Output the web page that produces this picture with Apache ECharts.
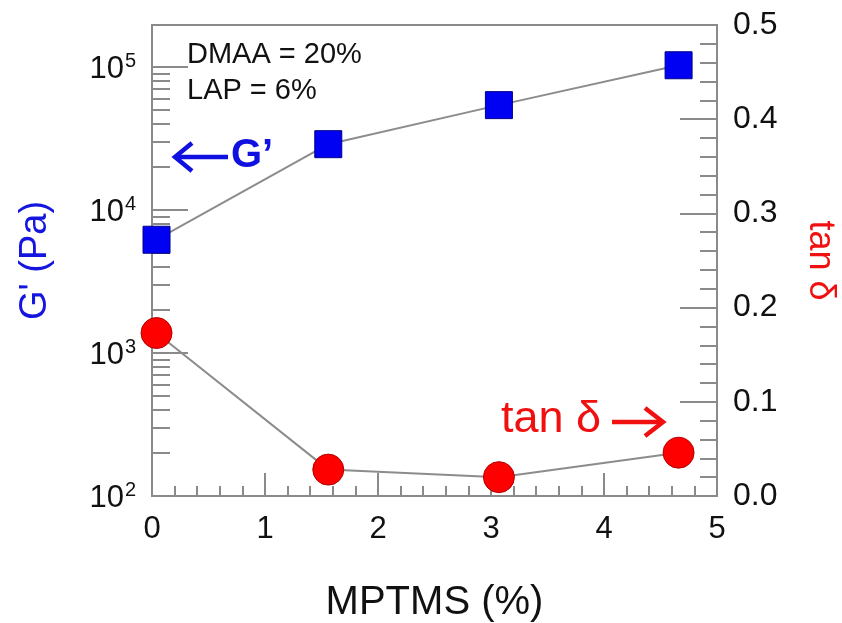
<!DOCTYPE html>
<html>
<head>
<meta charset="utf-8">
<script src="https://cdn.jsdelivr.net/npm/echarts@6/dist/echarts.min.js"></script>
<style>html,body{margin:0;padding:0;background:#fff}#c{width:842px;height:623px}</style>
</head>
<body>
<div id="c"></div>
<script>
// ---- data ----
var mptms = [0.04, 1.56, 3.07, 4.66];
var gPrime = [6200, 28900, 54200, 103000];
var tanDelta = [0.173, 0.028, 0.020, 0.046];
var gMajorTicks = [100, 1000, 10000, 100000];
var gMinorTicks = [200,300,400,500,600,700,800,900,2000,3000,4000,5000,6000,7000,8000,9000,20000,30000,40000,50000,60000,70000,80000,90000];
var xTicks = [0, 1, 2, 3, 4, 5];
var tanTicks = [0, 0.1, 0.2, 0.3, 0.4, 0.5];

var FONT = '"Liberation Sans", Arial, sans-serif';
var AX = '#8a8a8a';

var chart = echarts.init(document.getElementById('c'));
var option = {
  backgroundColor: '#fff',
  animation: false,
  grid: { left: 152, right: 125, top: 25, bottom: 127, outerBoundsMode: 'none', containLabel: false, show: true, borderColor: AX, borderWidth: 2, backgroundColor: 'transparent' },
  xAxis: {
    type: 'value', min: 0, max: 5, interval: 1,
    name: 'MPTMS (%)', nameLocation: 'middle', nameGap: 87,
    nameTextStyle: { fontFamily: FONT, fontSize: 40, color: '#111' },
    axisLine: { show: true, lineStyle: { color: AX, width: 2 } },
    axisTick: { show: true, inside: true, length: 23, lineStyle: { color: AX, width: 2 } },
    minorTick: { show: true, splitNumber: 5, length: 10, lineStyle: { color: AX, width: 2 } },
    splitLine: { show: false },
    axisLabel: { fontFamily: FONT, fontSize: 31, color: '#111', margin: 18 }
  },
  yAxis: [
    {
      type: 'log', logBase: 10, min: 100, max: 197000, position: 'left',
      name: "G' (Pa)", nameLocation: 'middle', nameGap: 97,
      nameTextStyle: { fontFamily: FONT, fontSize: 38, color: '#1515e0' },
      axisLine: { show: true, lineStyle: { color: AX, width: 2 } },
      axisTick: { show: true, inside: true, length: 36, customValues: gMajorTicks, lineStyle: { color: AX, width: 2 } },
      splitLine: { show: false },
      axisLabel: {
        customValues: gMajorTicks, margin: 16,
        formatter: function (v) { return '{a|10}{b|' + Math.round(Math.log10(v)) + '}'; },
        rich: {
          a: { fontFamily: FONT, fontSize: 31, color: '#111', lineHeight: 32, padding: [4, 0, 0, 0] },
          b: { fontFamily: FONT, fontSize: 20, color: '#111', verticalAlign: 'top', lineHeight: 32, padding: [0, 0, 0, 1] }
        }
      }
    },
    {
      type: 'log', logBase: 10, min: 100, max: 197000, position: 'left', gridIndex: 0,
      axisLine: { show: false },
      axisTick: { show: true, inside: true, length: 18, customValues: gMinorTicks, lineStyle: { color: AX, width: 2 } },
      axisLabel: { show: false },
      splitLine: { show: false }
    },
    {
      type: 'value', min: 0, max: 0.5, interval: 0.1, position: 'right',
      name: 'tan δ', nameLocation: 'middle', nameGap: 85, nameRotate: -90,
      nameTextStyle: { fontFamily: FONT, fontSize: 36, color: '#f01010' },
      axisLine: { show: true, lineStyle: { color: AX, width: 2 } },
      axisTick: { show: true, inside: true, length: 37, lineStyle: { color: AX, width: 2 } },
      minorTick: { show: true, splitNumber: 5, length: 17, lineStyle: { color: AX, width: 2 } },
      splitLine: { show: false },
      axisLabel: { fontFamily: FONT, fontSize: 32, color: '#111', margin: 16, formatter: function (v) { return v.toFixed(1); } }
    }
  ],
  series: [
    {
      type: 'line', name: "G'", yAxisIndex: 0,
      data: mptms.map(function (x, i) { return [x, gPrime[i]]; }),
      symbol: 'rect', symbolSize: 27, clip: false,
      lineStyle: { color: '#8c8c8c', width: 2 },
      itemStyle: { color: '#0000f2', borderColor: '#00008a', borderWidth: 1 }
    },
    {
      type: 'line', name: 'tan δ', yAxisIndex: 2,
      data: mptms.map(function (x, i) { return [x, tanDelta[i]]; }),
      symbol: 'circle', symbolSize: 31, clip: false,
      lineStyle: { color: '#8c8c8c', width: 2 },
      itemStyle: { color: '#ff0000', borderColor: '#b00000', borderWidth: 1 }
    }
  ],
  graphic: [
    { type: 'text', left: 187, top: 40, style: { text: 'DMAA = 20%', font: '29px ' + FONT, fill: '#111' } },
    { type: 'text', left: 187, top: 76, style: { text: 'LAP = 6%', font: '29px ' + FONT, fill: '#111' } },
    { type: 'polyline', shape: { points: [[176, 157], [228, 157]] }, style: { stroke: '#1010e0', lineWidth: 4.5, fill: null } },
    { type: 'polyline', shape: { points: [[192, 143], [175, 157], [192, 171]] }, style: { stroke: '#1010e0', lineWidth: 4.5, fill: null } },
    { type: 'text', left: 231, top: 136, style: { text: "G\u2019", font: 'bold 40px ' + FONT, fill: '#1010e0' } },
    { type: 'text', left: 501, top: 397, style: { text: 'tan δ', font: '45px ' + FONT, fill: '#f01010' } },
    { type: 'polyline', shape: { points: [[612, 422], [662, 422]] }, style: { stroke: '#f01010', lineWidth: 4.5, fill: null } },
    { type: 'polyline', shape: { points: [[645, 408], [663, 422], [645, 436]] }, style: { stroke: '#f01010', lineWidth: 4.5, fill: null } }
  ]
};
chart.setOption(option);
</script>
</body>
</html>
